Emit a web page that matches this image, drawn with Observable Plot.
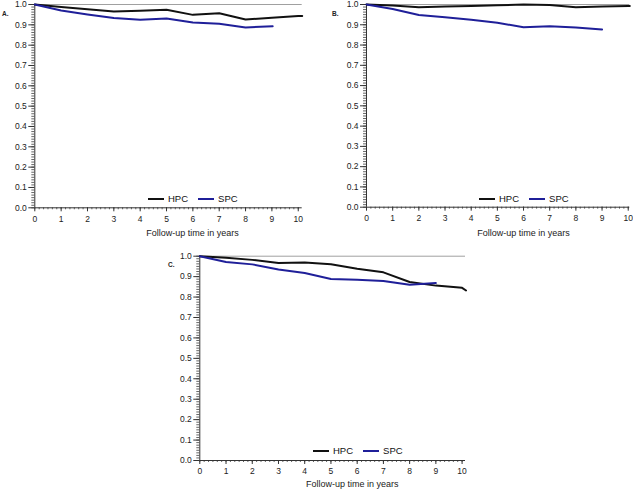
<!DOCTYPE html>
<html>
<head>
<meta charset="utf-8">
<script src="https://cdn.jsdelivr.net/npm/d3@7"></script>
<script src="https://cdn.jsdelivr.net/npm/@observablehq/plot@0.6"></script>
<style>
  html, body { margin: 0; padding: 0; background: #fff; }
  #wrap { position: relative; width: 633px; height: 492px; overflow: hidden; background: #fff; font-family: "Liberation Sans", Arial, sans-serif; }
  .panel { position: absolute; }
  .panel svg { overflow: visible; }
  .plabel { position: absolute; font-size: 6.5px; font-weight: bold; color: #222; line-height: 1; }
  .legend { position: absolute; display: flex; align-items: center; font-size: 9.5px; color: #111; line-height: 1; }
  .sw { display: inline-block; height: 2px; }
</style>
</head>
<body>
<div id="wrap"></div>
<script>
// ---- Data ----
const yearTicks = [0, 1, 2, 3, 4, 5, 6, 7, 8, 9, 10];
const survTicks = [0, 0.1, 0.2, 0.3, 0.4, 0.5, 0.6, 0.7, 0.8, 0.9, 1.0];
const seriesNames = ["HPC", "SPC"];
const axisTitle = "Follow-up time in years";
const panelLabels = ["A.", "B.", "C."];

// Panel A
const timeHPC_A = [0, 1, 2, 3, 4, 5, 6, 7, 8, 9, 10, 10.15];
const hpcA = [1.0, 0.988, 0.977, 0.965, 0.969, 0.974, 0.949, 0.957, 0.926, 0.935, 0.943, 0.944];
const timeSPC_A = [0, 1, 2, 3, 4, 5, 6, 7, 8, 9.03];
const spcA = [1.0, 0.970, 0.951, 0.934, 0.925, 0.931, 0.911, 0.905, 0.887, 0.893];

// Panel B
const timeHPC_B = [0, 1, 2, 3, 4, 5, 6, 7, 8, 9, 10, 10.06];
const hpcB = [1.0, 0.995, 0.987, 0.990, 0.993, 0.996, 1.0, 0.998, 0.987, 0.990, 0.992, 0.992];
const timeSPC_B = [0, 1, 2, 3, 4, 5, 6, 7, 8, 9];
const spcB = [1.0, 0.978, 0.948, 0.937, 0.925, 0.910, 0.888, 0.893, 0.887, 0.877];

// Panel C
const timeHPC_C = [0, 1, 2, 3, 4, 5, 6, 7, 8, 9, 10, 10.15];
const hpcC = [1.0, 0.992, 0.982, 0.967, 0.969, 0.961, 0.939, 0.921, 0.874, 0.856, 0.845, 0.832];
const timeSPC_C = [0, 1, 2, 3, 4, 5, 6, 7, 8, 9];
const spcC = [1.0, 0.972, 0.960, 0.935, 0.918, 0.888, 0.885, 0.879, 0.860, 0.869];

const colors = { HPC: "#111111", SPC: "#1f1f99" };

function rows(ts, vs) { return ts.map((t, i) => ({ t, v: vs[i] })); }

function panel(cfg) {
  const minorX = d3.range(0, 61).map(i => i / 6).filter(d => d <= cfg.xMax + 1e-9);
  const minorY = d3.range(0, 81).map(i => i / 80);
  return Plot.plot({
    width: cfg.width,
    height: cfg.height,
    marginLeft: cfg.ml,
    marginRight: cfg.mr,
    marginTop: cfg.mt,
    marginBottom: cfg.mb,
    style: { fontFamily: "'Liberation Sans', Arial, sans-serif", fontSize: "8.5px", color: "#222", background: "transparent", overflow: "visible" },
    x: { domain: [0, cfg.xMax], label: null },
    y: { domain: [0, 1], label: null },
    marks: [
      Plot.ruleY([1], { stroke: "#a0a0a0", strokeWidth: 1 }),
      Plot.axisY(minorY, { tickSize: 3, tickFormat: () => "", stroke: "#666", label: null }),
      Plot.axisY(survTicks, { tickSize: 6, tickPadding: 2, tickFormat: d3.format(".1f"), stroke: "#333", label: null }),
      Plot.axisX(minorX, { tickSize: 2, tickFormat: () => "", stroke: "#666", label: null }),
      Plot.axisX(yearTicks, { tickSize: 4, tickPadding: cfg.xPad, tickFormat: d => String(d), stroke: "#333", label: null }),
      Plot.ruleX([0], { stroke: "#333" }),
      Plot.ruleY([0], { stroke: "#333" }),
      Plot.line(rows(cfg.hpcT, cfg.hpc), { x: "t", y: "v", stroke: colors.HPC, strokeWidth: 2 }),
      Plot.line(rows(cfg.spcT, cfg.spc), { x: "t", y: "v", stroke: colors.SPC, strokeWidth: 2 }),
      Plot.text([axisTitle], { text: d => d, frameAnchor: "bottom", dx: cfg.tdx, dy: cfg.tdy, fontSize: 9, fill: "#222" })
    ]
  });
}

const wrap = document.getElementById("wrap");

function place(cfg) {
  const div = document.createElement("div");
  div.className = "panel";
  div.style.left = cfg.left + "px";
  div.style.top = cfg.top + "px";
  div.appendChild(panel(cfg));
  wrap.appendChild(div);

  const lab = document.createElement("div");
  lab.className = "plabel";
  lab.textContent = cfg.label;
  lab.style.left = cfg.labX + "px";
  lab.style.top = cfg.labY + "px";
  wrap.appendChild(lab);

  const leg = document.createElement("div");
  leg.className = "legend";
  leg.style.left = cfg.legX + "px";
  leg.style.top = cfg.legY + "px";
  seriesNames.forEach((name, i) => {
    const sw = document.createElement("span");
    sw.className = "sw";
    sw.style.width = "16px";
    sw.style.background = colors[name];
    sw.style.marginRight = "4px";
    sw.style.marginLeft = i === 0 ? "0px" : "10px";
    const tx = document.createElement("span");
    tx.textContent = name;
    leg.appendChild(sw);
    leg.appendChild(tx);
  });
  wrap.appendChild(leg);
}

place({ left: 0, top: 0, width: 316, height: 242, ml: 34.3, mr: 14.3, mt: 4, mb: 34.7, xMax: 10.15, xPad: 4,
        tdx: 24, tdy: 27.7, hpcT: timeHPC_A, hpc: hpcA, spcT: timeSPC_A, spc: spcA,
        label: panelLabels[0], labX: 2, labY: 11, legX: 148, legY: 194 });

place({ left: 316, top: 0, width: 317, height: 242, ml: 50, mr: 3.7, mt: 4, mb: 35.3, xMax: 10.06, xPad: 4,
        tdx: 25.4, tdy: 28.3, hpcT: timeHPC_B, hpc: hpcB, spcT: timeSPC_B, spc: spcB,
        label: panelLabels[1], labX: 332, labY: 11, legX: 479, legY: 194 });

place({ left: 160, top: 240, width: 320, height: 252, ml: 39.3, mr: 15, mt: 15.7, mb: 32, xMax: 10.13, xPad: 3,
        tdx: 19.5, tdy: 26.7, hpcT: timeHPC_C, hpc: hpcC, spcT: timeSPC_C, spc: spcC,
        label: panelLabels[2], labX: 168, labY: 262, legX: 313, legY: 446 });
</script>
</body>
</html>
